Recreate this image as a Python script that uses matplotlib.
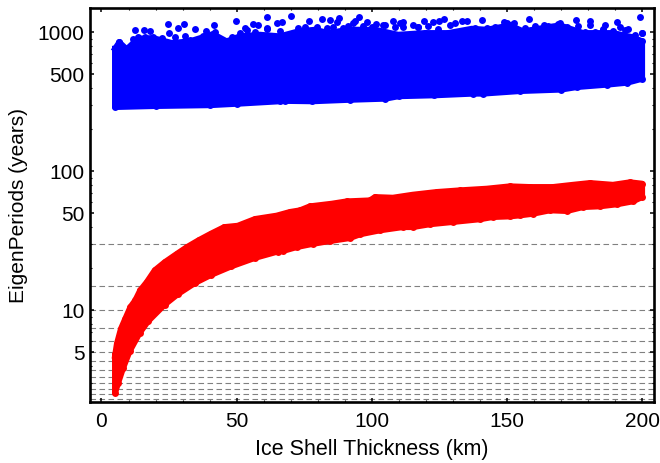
#!/usr/bin/env python3
"""Periodos propios frente al espesor de la capa de hielo."""

from __future__ import annotations

import matplotlib

matplotlib.use("Agg")

import matplotlib.pyplot as plt

# banda roja: bordes
RED_UPPER_X = [5.0, 5.7, 7.2, 8.8, 10.7, 12.5, 14.3, 16.8, 19.7, 23.4, 27.9, 31.6, 35.9, 40.5,
               45.4, 50.4, 56.8, 64.8, 69.7, 73.4, 77.1, 85.2, 90.7, 99.3, 101.2, 107.8, 115.2,
               124.0, 132.6, 142.5, 151.1, 158.5, 167.0, 174.4, 180.7, 189.2, 195.5, 200.0]
RED_UPPER_Y = [4.69, 5.75, 7.37, 8.7, 10.56, 11.8, 13.9, 16.0, 19.4, 22.2, 25.5, 28.5, 31.9, 35.6,
               39.7, 40.6, 45.4, 48.0, 51.0, 52.4, 56.0, 58.5, 60.8, 61.8, 65.3, 64.6, 67.9,
               71.0, 73.0, 75.0, 78.0, 77.1, 77.1, 80.0, 82.4, 80.0, 83.4, 81.5]
RED_LOWER_X = [5.0, 6.1, 8.0, 10.4, 14.1, 17.2, 23.4, 28.3, 34.5, 40.6, 48.0, 56.7, 65.3, 67.1,
               72.2, 78.3, 84.5, 91.9, 95.6, 103.0, 111.5, 115.2, 121.5, 130.0, 140.0, 144.8,
               151.1, 154.8, 159.6, 165.9, 172.2, 178.1, 184.4, 190.7, 196.6, 200.0]
RED_LOWER_Y = [2.54, 2.98, 3.85, 5.07, 6.87, 8.33, 11.0, 13.1, 15.7, 18.0, 20.7, 23.8, 26.5, 26.7,
               28.5, 30.1, 31.5, 33.1, 35.2, 37.6, 39.7, 39.7, 41.6, 43.2, 45.2, 46.9,
               47.4, 48.2, 49.5, 52.4, 51.8, 55.3, 56.0, 57.9, 60.8, 65.3]

# banda azul: bordes y puntos sueltos
BLUE_UPPER_X = [5.0, 6.6, 9.3, 13.5, 19.0, 26.0, 32.7, 41.3, 46.3, 51.2, 58.6, 66.0, 72.8, 79.0,
                83.9, 91.3, 101.2, 109.7, 119.7, 128.3, 137.0, 142.5, 151.1, 156.0, 164.7, 169.6,
                178.2, 189.3, 196.7, 200.0]
BLUE_UPPER_Y = [761, 847, 755, 899, 910, 838, 861, 972, 861, 936, 961, 936, 1016, 1044,
                988, 1044, 1044, 961, 988, 988, 1061, 1044, 1122, 1016, 1086, 1122,
                988, 988, 920, 861]
BLUE_LOWER_X = [5.0, 20.0, 40.0, 50.0, 66.0, 68.0, 78.0, 92.0, 105.0, 110.0, 123.0, 137.5, 141.0,
                155.0, 170.0, 176.0, 187.0, 194.5, 200.0]
BLUE_LOWER_Y = [290, 295, 299, 306, 319, 321, 319, 327, 333, 347, 352, 362, 362,
                378, 387, 404, 420, 434, 463]
BLUE_EXTRA_X = [12.4, 15.8, 17.9, 24.6, 30.5, 28.2, 24.9, 34.5, 41.5, 38.5, 49.9, 56.1, 61.4,
                64.8, 66.8, 70.0, 53.1, 58.0, 61.1, 76.8, 81.4, 84.5, 87.8, 95.3, 87.0, 93.8,
                98.3, 107.9, 111.6, 110.4, 119.4, 122.7, 126.8, 124.8, 129.0, 133.3, 135.4,
                101.4, 104.8, 115.4, 117.2, 140.6, 158.1, 148.8, 152.5, 163.6, 169.8, 175.4,
                180.9, 180.7, 186.2, 190.7, 191.9, 194.7, 185.7, 199.3, 200.0]
BLUE_EXTRA_Y = [1042, 1047, 1030, 1140, 1157, 1072, 992, 1064, 1120, 1025, 1216, 1157, 1298,
                1176, 1184, 1314, 1083, 1132, 1083, 1216, 1250, 1235, 1263, 1292, 1184, 1210,
                1184, 1198, 1184, 1165, 1198, 1184, 1244, 1210, 1132, 1198, 1216,
                1140, 1132, 1132, 1090, 1230, 1244, 1184, 1165, 1132, 1165, 1225,
                1198, 1120, 1132, 1184, 1101, 1060, 1055, 1292, 987]
BLUE_TOP_X = [6.6, 11.8, 13.6, 16.1, 19.2, 22.3, 27.2, 30.9, 32.7, 37.7, 42.0, 48.2, 51.2, 53.7,
              56.8, 61.1, 66.2, 72.8, 75.3, 79.6, 83.3, 85.8, 89.5, 91.3, 93.2, 96.9, 100.0,
              104.3, 108.6, 111.7, 117.2, 120.9, 124.4, 130.8, 138.2, 142.5, 145.6, 149.9,
              152.4, 156.7, 160.4, 165.3, 169.0, 172.1, 176.4, 178.9, 182.6, 185.7, 189.3,
              193.7, 197.4, 200.0]
BLUE_TOP_Y = [847, 890, 920, 930, 920, 905, 920, 945, 880, 945, 1010, 930, 983, 1039,
              1010, 1056, 1022, 1079, 1097, 1097, 1079, 1097, 1068, 1115, 1160, 1115, 1097,
              1128, 1097, 1097, 1086, 1115, 1056, 1160, 1079, 1079, 1097, 1160,
              1142, 1068, 1115, 1115, 1142, 1097, 1115, 1010, 1010, 1039, 1022,
              1039, 956, 983]

# lineas horizontales discontinuas
DASHED_PERIODS = [30.0, 15.0, 10.0, 7.5, 6.0, 5.0, 4.29, 3.75, 3.33, 3.0, 2.73, 2.5, 2.31]

X_MAJOR = [0, 50, 100, 150, 200]
X_MINOR = [10, 20, 30, 40, 60, 70, 80, 90, 110, 120, 130, 140, 160, 170, 180, 190]
Y_MAJOR = [5, 10, 50, 100, 500, 1000]
Y_MINOR = [3, 4, 6, 7, 8, 9, 20, 30, 40, 60, 70, 80, 90, 200, 300, 400, 600, 700, 800, 900]

BLUE = "#0000ff"
RED = "#ff0000"
FONT = "Liberation Sans"
MARKER = 5.0


def _plot_band(ax, xu, yu, xl, yl, color, zorder) -> None:
    ax.fill(xu + xl[::-1], yu + yl[::-1], color=color, lw=0, zorder=zorder)
    ax.plot(xu + xl[::-1] + xu[:1], yu + yl[::-1] + yu[:1], color=color, lw=4.3,
            solid_joinstyle="round", zorder=zorder)
    ax.plot(xu + xl, yu + yl, ls="none", marker="o", ms=MARKER, mew=0, color=color, zorder=zorder)


def main() -> None:
    plt.rcParams["font.family"] = [FONT, "DejaVu Sans"]
    fig = plt.figure(figsize=(6.6, 4.63), dpi=100)
    ax = fig.add_axes([90 / 660, 1 - 402.3 / 463, 564 / 660, 394.3 / 463])

    for period in DASHED_PERIODS:
        ax.axhline(period, color="#808080", lw=0.8, dashes=(5.0, 3.1), zorder=1)

    _plot_band(ax, RED_UPPER_X, RED_UPPER_Y, RED_LOWER_X, RED_LOWER_Y, RED, 3)
    _plot_band(ax, BLUE_UPPER_X, BLUE_UPPER_Y, BLUE_LOWER_X, BLUE_LOWER_Y, BLUE, 3)
    ax.plot(BLUE_EXTRA_X, BLUE_EXTRA_Y, ls="none", marker="o", ms=MARKER, mew=0, color=BLUE, zorder=3)
    ax.plot(BLUE_TOP_X, BLUE_TOP_Y, ls="none", marker="o", ms=MARKER, mew=0, color=BLUE, zorder=3)

    ax.set_yscale("log")
    ax.set_xlim(-4.25, 204.4)
    ax.set_ylim(2.18, 1496)

    ax.set_xticks(X_MAJOR, [str(v) for v in X_MAJOR])
    ax.set_xticks(X_MINOR, minor=True)
    ax.set_yticks(Y_MAJOR, [str(v) for v in Y_MAJOR])
    ax.set_yticks(Y_MINOR, [""] * len(Y_MINOR), minor=True)
    ax.tick_params(which="major", direction="in", length=3, width=1.1, labelsize=15,
                   top=True, right=True, pad=4)
    ax.tick_params(which="minor", direction="in", length=1.5, width=0.8, top=True, right=True)
    ax.tick_params(axis="x", which="major", pad=7)

    for spine in ax.spines.values():
        spine.set_linewidth(1.9)
    ax.set_xlabel("Ice Shell Thickness (km)", fontsize=15.5, labelpad=6)
    ax.set_ylabel("EigenPeriods (years)", fontsize=15, labelpad=7)

    fig.savefig("out.png", dpi=100)
    plt.close(fig)


if __name__ == "__main__":
    main()
